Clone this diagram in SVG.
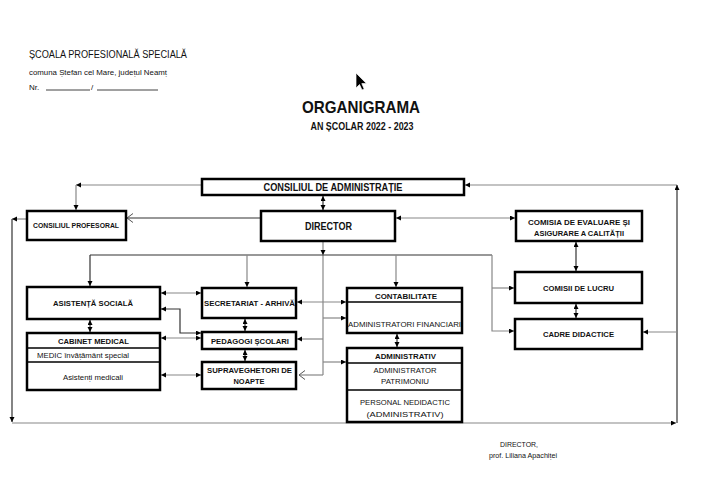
<svg xmlns="http://www.w3.org/2000/svg" width="720" height="488" viewBox="0 0 720 488">
<defs>
<marker id="a" markerUnits="userSpaceOnUse" markerWidth="6" markerHeight="6" refX="5" refY="2.5" orient="auto-start-reverse"><path d="M0,0 L5,2.5 L0,5 z" fill="#000"/></marker>
<marker id="o" markerUnits="userSpaceOnUse" markerWidth="8" markerHeight="10" refX="6" refY="4.5" orient="auto"><path d="M0,0 L6,4.5 L0,9" fill="none" stroke="#555" stroke-width="1"/></marker>
</defs>
<style>
text{font-family:"Liberation Sans",Arial,sans-serif;fill:#111}
.b{font-weight:bold}
.box{fill:#fff;stroke:#000;stroke-width:2.5}
.sep{stroke:#000;stroke-width:1.5}
.c{fill:none;stroke:#888;stroke-width:1.2}
.d{fill:none;stroke:#333;stroke-width:1.2}
.s1{font-size:8px}
.s2{font-size:7px}
</style>
<rect width="720" height="488" fill="#fff"/>
<g id="header">
<text x="29" y="58" font-size="10" textLength="158" lengthAdjust="spacingAndGlyphs">ȘCOALA PROFESIONALĂ SPECIALĂ</text>
<text x="29" y="75" font-size="8" textLength="138" lengthAdjust="spacingAndGlyphs">comuna Ștefan cel Mare, județul Neamț</text>
<text x="29" y="90" font-size="8">Nr.</text>
<line x1="46" y1="90" x2="90" y2="90" stroke="#111" stroke-width="0.8"/>
<text x="91" y="90" font-size="8">/</text>
<line x1="97" y1="90" x2="158" y2="90" stroke="#111" stroke-width="0.8"/>
<text x="361" y="113" font-size="17" class="b" text-anchor="middle" textLength="118" lengthAdjust="spacingAndGlyphs">ORGANIGRAMA</text>
<text x="362" y="130" font-size="10" class="b" text-anchor="middle" textLength="103" lengthAdjust="spacingAndGlyphs">AN ȘCOLAR 2022 - 2023</text>
</g>
<path d="M356,73 L356,88 L359.5,84.5 L362,90 L364.2,89 L361.8,83.6 L366.5,83.6 z" fill="#000" stroke="#fff" stroke-width="0.7"/>
<g id="connectors">
<path class="c" d="M202,185 H76" marker-end="url(#a)"/>
<path class="c" d="M76,185 V210" marker-end="url(#a)"/>
<path class="d" d="M323,196 V210" marker-start="url(#a)" marker-end="url(#a)"/>
<path class="d" d="M261,218 H127" marker-end="url(#o)"/>
<path class="c" d="M396,218 H515" marker-start="url(#a)" marker-end="url(#a)"/>
<path class="c" d="M465,185 H677" marker-start="url(#a)"/>
<path class="d" d="M677,423 V185" marker-end="url(#a)"/>
<path class="c" d="M677,332 H643" marker-end="url(#a)"/>
<path class="c" d="M12,423 H676" marker-end="url(#a)"/>
<path class="c" d="M27,219 H12" marker-end="url(#a)"/>
<path class="d" d="M12,219 V422" marker-end="url(#a)"/>
<path class="c" d="M323,242 V255" marker-end="url(#a)"/>
<path class="c" d="M323,255 V375"/>
<path class="d" d="M90,255 H492"/>
<path class="d" d="M90,255 V286" marker-end="url(#a)"/>
<path class="c" d="M247,255 V287" marker-end="url(#a)"/>
<path class="c" d="M396,255 V287" marker-end="url(#a)"/>
<path class="c" d="M492,255 V331 H514" marker-end="url(#a)"/>
<path class="c" d="M492,288 H514" marker-end="url(#a)"/>
<path class="c" d="M161,293 H201" marker-start="url(#a)" marker-end="url(#a)"/>
<path class="d" d="M161,309 H180 V333 H201" marker-start="url(#a)" marker-end="url(#a)"/>
<path class="c" d="M161,338 H201" marker-start="url(#a)" marker-end="url(#a)"/>
<path class="c" d="M161,375 H201" marker-start="url(#a)" marker-end="url(#a)"/>
<path class="d" d="M90,320 V332" marker-start="url(#a)" marker-end="url(#a)"/>
<path class="d" d="M245,319 V331" marker-start="url(#a)" marker-end="url(#a)"/>
<path class="d" d="M245,350 V361" marker-start="url(#a)" marker-end="url(#a)"/>
<path class="c" d="M297,302 H346" marker-start="url(#a)" marker-end="url(#a)"/>
<path class="c" d="M323,318 H346" marker-end="url(#a)"/>
<path class="c" d="M323,339 H297" marker-end="url(#a)"/>
<path class="c" d="M323,362 H346" marker-end="url(#a)"/>
<path class="c" d="M323,375 H299" marker-end="url(#o)"/>
<path class="d" d="M397,334 V347" marker-start="url(#a)" marker-end="url(#a)"/>
<path class="d" d="M576,242 V271" marker-start="url(#a)" marker-end="url(#a)"/>
<path class="d" d="M576,304 V318" marker-start="url(#a)" marker-end="url(#a)"/>
</g>
<g id="consiliul-administratie">
<rect class="box" x="202" y="179" width="262" height="16"/>
<text x="333" y="190.5" font-size="10" class="b" text-anchor="middle" textLength="139" lengthAdjust="spacingAndGlyphs">CONSILIUL DE ADMINISTRAȚIE</text>
</g>
<g id="director">
<rect class="box" x="261" y="211" width="134" height="30"/>
<text x="328.5" y="229.5" font-size="11" class="b" text-anchor="middle" textLength="47" lengthAdjust="spacingAndGlyphs">DIRECTOR</text>
</g>
<g id="consiliul-profesoral">
<rect class="box" x="27" y="211" width="99" height="29"/>
<text x="76" y="228" font-size="7.5" class="b" text-anchor="middle" textLength="86" lengthAdjust="spacingAndGlyphs">CONSILIUL PROFESORAL</text>
</g>
<g id="comisia-evaluare">
<rect class="box" x="516" y="211" width="126" height="30"/>
<text x="579" y="225" class="b s1" text-anchor="middle" textLength="102" lengthAdjust="spacingAndGlyphs">COMISIA DE EVALUARE ȘI</text>
<text x="579" y="236" class="b s1" text-anchor="middle" textLength="90" lengthAdjust="spacingAndGlyphs">ASIGURARE A CALITĂȚII</text>
</g>
<g id="asistenta-sociala">
<rect class="box" x="27" y="287" width="133" height="32"/>
<text x="93" y="305.5" class="b s1" text-anchor="middle" textLength="80" lengthAdjust="spacingAndGlyphs">ASISTENȚĂ SOCIALĂ</text>
</g>
<g id="cabinet-medical">
<rect class="box" x="27" y="333" width="133" height="57"/>
<line class="sep" x1="27" y1="348" x2="160" y2="348"/>
<line class="sep" x1="27" y1="362" x2="160" y2="362"/>
<text x="93.5" y="343.5" class="b s1" text-anchor="middle" textLength="71" lengthAdjust="spacingAndGlyphs">CABINET MEDICAL</text>
<text x="83" y="358" class="s1" text-anchor="middle" textLength="92" lengthAdjust="spacingAndGlyphs">MEDIC învățământ special</text>
<text x="93" y="379.5" class="s1" text-anchor="middle" textLength="60" lengthAdjust="spacingAndGlyphs">Asistenți medicali</text>
</g>
<g id="secretariat">
<rect class="box" x="202" y="288" width="94" height="30"/>
<text x="249.5" y="305.5" class="b s1" text-anchor="middle" textLength="91" lengthAdjust="spacingAndGlyphs">SECRETARIAT - ARHIVĂ</text>
</g>
<g id="pedagogi">
<rect class="box" x="202" y="332" width="94" height="17"/>
<text x="250" y="343.5" class="b s1" text-anchor="middle" textLength="78" lengthAdjust="spacingAndGlyphs">PEDAGOGI ȘCOLARI</text>
</g>
<g id="supraveghetori">
<rect class="box" x="202" y="362" width="94" height="27"/>
<text x="249.5" y="372.5" class="b s1" text-anchor="middle" textLength="85" lengthAdjust="spacingAndGlyphs">SUPRAVEGHETORI DE</text>
<text x="249" y="384" class="b s1" text-anchor="middle" textLength="31" lengthAdjust="spacingAndGlyphs">NOAPTE</text>
</g>
<g id="contabilitate">
<rect class="box" x="347" y="288" width="115" height="45"/>
<line class="sep" x1="347" y1="302" x2="462" y2="302"/>
<text x="406" y="299" class="b s1" text-anchor="middle" textLength="62" lengthAdjust="spacingAndGlyphs">CONTABILITATE</text>
<text x="404.5" y="327" class="s1" text-anchor="middle" textLength="113" lengthAdjust="spacingAndGlyphs">ADMINISTRATORI FINANCIARI</text>
</g>
<g id="administrativ">
<rect class="box" x="347" y="348" width="115" height="74"/>
<line class="sep" x1="347" y1="363" x2="462" y2="363"/>
<line class="sep" x1="347" y1="390" x2="462" y2="390"/>
<text x="405.5" y="358.5" class="b s1" text-anchor="middle" textLength="61" lengthAdjust="spacingAndGlyphs">ADMINISTRATIV</text>
<text x="405" y="372.5" class="s1" text-anchor="middle" textLength="63" lengthAdjust="spacingAndGlyphs">ADMINISTRATOR</text>
<text x="405" y="384" class="s1" text-anchor="middle" textLength="48" lengthAdjust="spacingAndGlyphs">PATRIMONIU</text>
<text x="405" y="405" class="s1" text-anchor="middle" textLength="90" lengthAdjust="spacingAndGlyphs">PERSONAL NEDIDACTIC</text>
<text x="405" y="416.5" font-size="7.5" text-anchor="middle" textLength="77" lengthAdjust="spacingAndGlyphs">(ADMINISTRATIV)</text>
</g>
<g id="comisii-lucru">
<rect class="box" x="515" y="272" width="127" height="31"/>
<text x="578.5" y="290.5" class="b s1" text-anchor="middle" textLength="71" lengthAdjust="spacingAndGlyphs">COMISII DE LUCRU</text>
</g>
<g id="cadre-didactice">
<rect class="box" x="515" y="319" width="127" height="30"/>
<text x="578.5" y="337" class="b s1" text-anchor="middle" textLength="71" lengthAdjust="spacingAndGlyphs">CADRE DIDACTICE</text>
</g>
<g id="signature">
<text x="519" y="447" class="s2" text-anchor="middle" textLength="38" lengthAdjust="spacingAndGlyphs">DIRECTOR,</text>
<text x="523" y="457.5" class="s2" text-anchor="middle" textLength="68" lengthAdjust="spacingAndGlyphs">prof. Liliana Apachiței</text>
</g>
</svg>
